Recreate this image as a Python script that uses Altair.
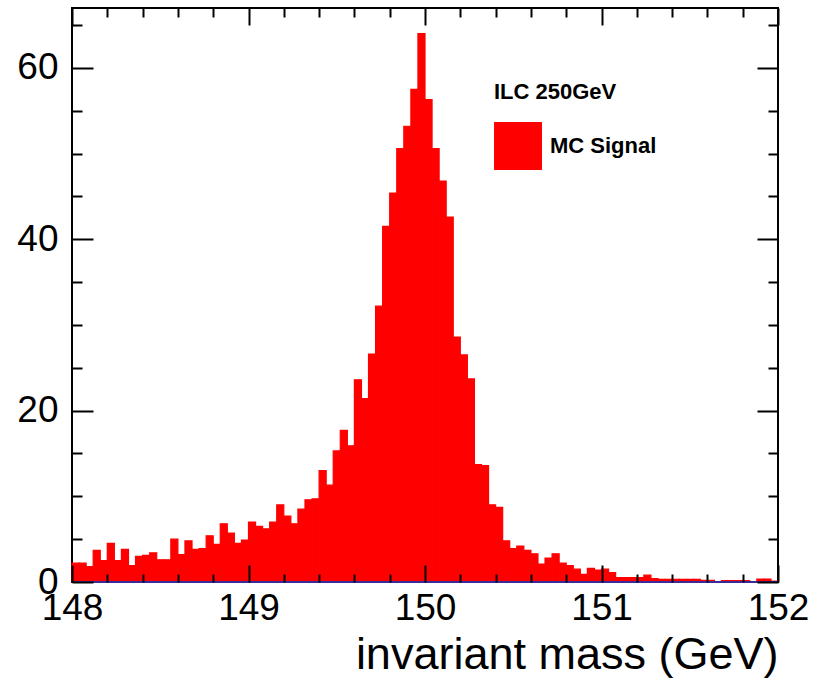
import altair as alt
import pandas as pd

# ---- histogram data ----
x_start = 148.0
bin_width = 0.04
counts = [2.2, 2.2, 1.8, 3.7, 2.5, 4.5, 2.5, 3.8, 1.9, 3.0,
          3.1, 3.4, 2.6, 2.6, 5.0, 3.2, 4.8, 3.8, 3.9, 5.4,
          4.4, 6.8, 5.7, 4.5, 4.9, 7.0, 6.5, 6.2, 7.0, 9.0,
          7.7, 6.8, 8.5, 9.6, 9.7, 13.0, 11.3, 15.3, 17.7, 15.9,
          23.6, 21.4, 26.6, 32.2, 41.5, 45.4, 50.6, 53.2, 57.5, 64.0,
          56.3, 50.6, 46.8, 42.6, 28.6, 26.5, 23.7, 13.7, 13.6, 9.0,
          8.7, 4.8, 3.9, 4.2, 3.7, 3.3, 2.1, 2.8, 3.3, 2.2,
          1.9, 1.5, 0.9, 1.6, 1.4, 1.5, 1.1, 0.5, 0.5, 0.5,
          0.5, 0.8, 0.4, 0.3, 0.3, 0.3, 0.3, 0.3, 0.3, 0.2,
          0.2, 0.05, 0.15, 0.15, 0.15, 0.15, 0.05, 0.35, 0.35, 0.1]
series_name = "MC Signal"
legend_title = "ILC 250GeV"
x_title = "invariant mass (GeV)"

x_domain = [148, 152]
y_domain = [0, 67]
x_major = [148, 149, 150, 151, 152]
x_minor = [148.2, 148.4, 148.6, 148.8, 149.2, 149.4, 149.6, 149.8,
           150.2, 150.4, 150.6, 150.8, 151.2, 151.4, 151.6, 151.8]
y_major = [0, 20, 40, 60]
y_minor = [5, 10, 15, 25, 30, 35, 45, 50, 55, 65]
baseline_x = [148]
baseline_x2 = [152]
baseline_y = [0]

lo = [round(x_start + i * bin_width, 2) for i in range(len(counts))]
hi = [round(v + bin_width, 2) for v in lo]
df = pd.DataFrame({"lo": lo, "hi": hi, "count": counts,
                   "series": [series_name] * len(counts)})

FONT = "Liberation Sans"
W, H = 706, 574
xs = alt.Scale(domain=x_domain, nice=False, zero=False)
ys = alt.Scale(domain=y_domain, nice=False, zero=False)


def ticks(orient, values, size, **kw):
    return alt.Axis(orient=orient, values=values, offset=-size, tickSize=size,
                    tickWidth=2, tickColor="black", domain=False, grid=False,
                    zindex=2, **kw)


bars = alt.Chart(df).mark_rect(stroke="#ff0000", strokeWidth=1.2).encode(
    x=alt.X("lo:Q", scale=xs, title=x_title,
            axis=ticks("bottom", x_major, 17, labelFont=FONT, labelFontSize=37,
                       labelColor="black", labelPadding=8, labelFlush=False,
                       labelOverlap=False, format="d",
                       titleFont=FONT, titleFontSize=45, titleFontWeight="normal",
                       titleColor="black", titleAlign="right", titleAnchor="end",
                       titleX=W, titleY=103, titleBaseline="alphabetic")),
    x2="hi:Q",
    y=alt.Y("count:Q", scale=ys, title=None,
            axis=ticks("left", y_major, 21, labelFont=FONT, labelFontSize=37,
                       labelColor="black", labelPadding=14, labelFlush=False,
                       labelOverlap=False, format="d")),
    y2=alt.datum(0),
    color=alt.Color("series:N",
                    scale=alt.Scale(domain=[series_name], range=["#ff0000"]),
                    legend=alt.Legend(orient="none", legendX=422, legendY=74,
                                      title=legend_title, titleFont=FONT,
                                      titleFontSize=22, titleFontWeight="bold",
                                      titleColor="black", titlePadding=18,
                                      symbolType="square", symbolSize=2300,
                                      symbolStrokeWidth=0, symbolOpacity=1,
                                      labelFont=FONT, labelFontSize=22,
                                      labelFontWeight="bold", labelColor="black",
                                      labelOffset=8, padding=0)),
)

ghost = alt.Chart(df).mark_point(opacity=0)

minor_bl = ghost.encode(
    x=alt.X("lo:Q", scale=xs, title=None, axis=ticks("bottom", x_minor, 8, labels=False)),
    y=alt.Y("count:Q", scale=ys, title=None, axis=ticks("left", y_minor, 10, labels=False)),
)
major_tr = ghost.encode(
    x=alt.X("lo:Q", scale=xs, title=None, axis=ticks("top", x_major, 17, labels=False)),
    y=alt.Y("count:Q", scale=ys, title=None, axis=ticks("right", y_major, 21, labels=False)),
)
minor_tr = ghost.encode(
    x=alt.X("lo:Q", scale=xs, title=None, axis=ticks("top", x_minor, 9, labels=False)),
    y=alt.Y("count:Q", scale=ys, title=None, axis=ticks("right", y_minor, 10, labels=False)),
)

base_df = pd.DataFrame({"a": baseline_x, "b": baseline_x2, "z": baseline_y})
baseline = alt.Chart(base_df).mark_rule(color="#3a2a9a", strokeWidth=2).encode(
    x=alt.X("a:Q", scale=xs, axis=None),
    x2="b:Q",
    y=alt.Y("z:Q", scale=ys, axis=None),
)

chart = alt.layer(bars, minor_bl, major_tr, minor_tr, baseline).resolve_axis(
    x="independent", y="independent"
).properties(
    width=W, height=H, autosize="none",
    padding={"left": 72, "top": 8, "right": 39, "bottom": 106},
    background="white",
).configure_view(stroke="black", strokeWidth=2)

chart.save("out.html", embed_options={"renderer": "svg", "actions": False})
